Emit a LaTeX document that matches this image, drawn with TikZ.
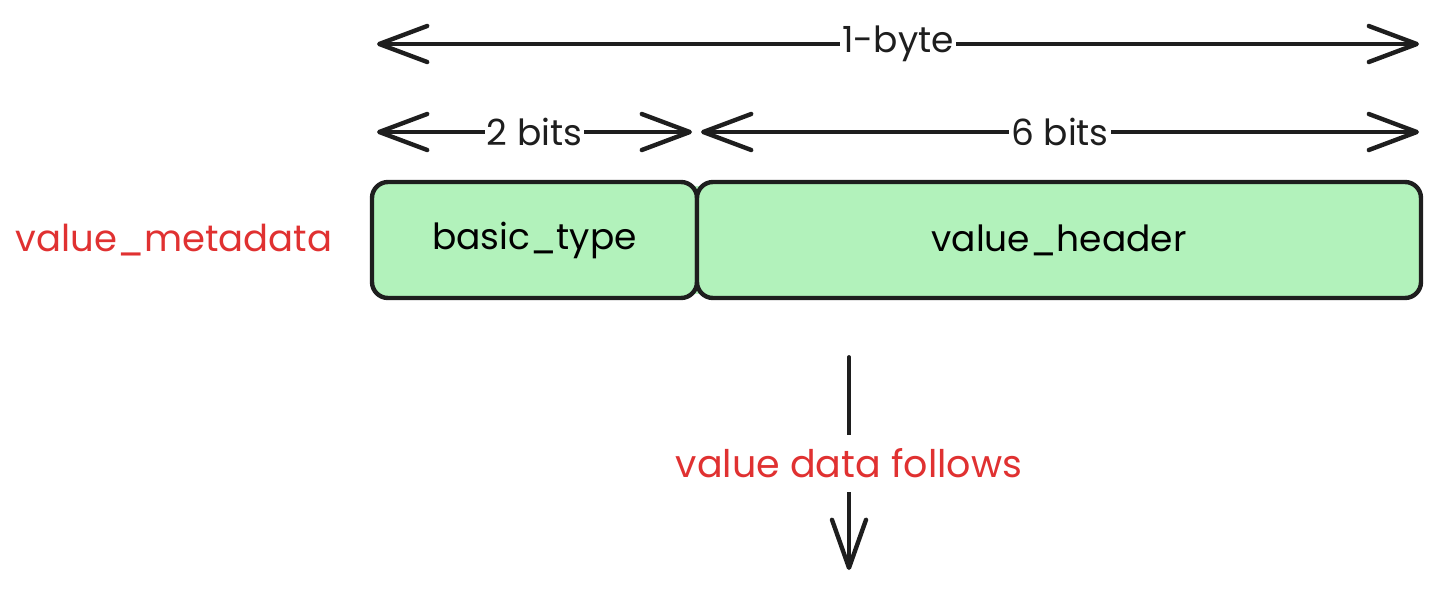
\documentclass[tikz,border=0pt]{standalone}
\usepackage{fontspec}
\setmainfont{Poppins}
\usepackage{tikz}
\usetikzlibrary{arrows.meta}
\definecolor{Ink}{HTML}{1E1E1E}
\definecolor{Note}{HTML}{E03131}
\definecolor{Mint}{HTML}{B2F2BB}
\tikzstyle{Arrow}=[Ink,line width=1.6pt,line cap=round,{Straight Barb[length=24pt,width=18pt,line width=2.2pt,round]}-{Straight Barb[length=24pt,width=18pt,line width=2.2pt,round]}]
\tikzstyle{Down}=[Ink,line width=1.9pt,line cap=round,-{Straight Barb[length=24pt,width=17pt,line width=2.2pt,round]}]
\tikzstyle{Field}=[draw=Ink,fill=Mint,line width=2.2pt,rounded corners=8pt,minimum height=58pt,inner sep=0pt,font=\fontsize{18}{22}\selectfont]
\tikzstyle{Label}=[fill=white,text=Ink,inner xsep=1pt,inner ysep=3pt,font=\fontsize{18}{22}\selectfont]

\begin{document}
\begin{tikzpicture}[x=0.5pt,y=-0.5pt]

\useasboundingbox (0,0) rectangle (1442,590);

% the byte
\fill[Mint] (690,186) rectangle (704,294);
\node[Field,minimum width=162.5pt] (basic) at (534.5,240) {basic\_type};
\node[Field,minimum width=362pt] (header) at (1059,240) {value\_header};
\node[text=Note,font=\fontsize{18.5}{22}\selectfont] (meta) at (174,240) {value\_metadata};

% widths
\coordinate (byteL) at (377,44);
\coordinate (byteR) at (1419,44);
\coordinate (twoL) at (377,132);
\coordinate (twoR) at (692,132);
\coordinate (sixL) at (701,132);
\coordinate (sixR) at (1419,132);

\draw[Arrow] (byteL) -- (byteR) node[Label,midway] {1-byte};
\draw[Arrow] (twoL) -- (twoR) node[Label,midway] {2 bits};
\draw[Arrow] (sixL) -- (sixR) node[Label,midway] {6 bits};

% what comes next
\coordinate (dataTop) at (849,357);
\coordinate (dataEnd) at (849,570);
\draw[Down] (dataTop) -- (dataEnd) node[Label,text=Note,midway,inner ysep=7pt,font=\fontsize{19}{22}\selectfont] {value data follows};

\end{tikzpicture}
\end{document}
